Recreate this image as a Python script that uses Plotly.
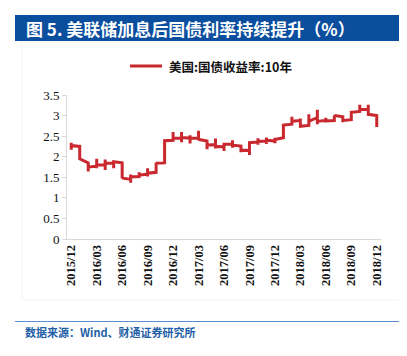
import plotly.graph_objects as go

# Month categories (Excel date axis, base unit = month)
months = ["2015/12",
          "2016/01", "2016/02", "2016/03", "2016/04", "2016/05", "2016/06",
          "2016/07", "2016/08", "2016/09", "2016/10", "2016/11", "2016/12",
          "2017/01", "2017/02", "2017/03", "2017/04", "2017/05", "2017/06",
          "2017/07", "2017/08", "2017/09", "2017/10", "2017/11", "2017/12",
          "2018/01", "2018/02", "2018/03", "2018/04", "2018/05", "2018/06",
          "2018/07", "2018/08", "2018/09", "2018/10", "2018/11", "2018/12"]

# Weekly observations of US 10Y Treasury yield (%) within each month
weekly_yields = [
    [2.17, 2.34, 2.27],
    [2.25, 2.10, 1.98, 1.95],
    [1.85, 1.64, 1.75],
    [1.77, 1.95, 1.72, 1.80],
    [1.80, 1.93, 1.68, 1.84],
    [1.84, 1.72, 1.88],
    [1.85, 1.62, 1.47, 1.48],
    [1.45, 1.37, 1.57, 1.51],
    [1.52, 1.62, 1.55],
    [1.58, 1.72, 1.52, 1.60],
    [1.62, 1.76, 1.86, 1.84],
    [1.85, 2.15, 2.37, 2.39],
    [2.40, 2.60, 2.47, 2.45],
    [2.45, 2.35, 2.60, 2.47],
    [2.45, 2.32, 2.52, 2.45],
    [2.45, 2.63, 2.40, 2.42],
    [2.38, 2.18, 2.28],
    [2.30, 2.44, 2.20, 2.25],
    [2.24, 2.14, 2.28, 2.30],
    [2.30, 2.40, 2.22, 2.28],
    [2.26, 2.11, 2.16],
    [2.15, 2.04, 2.30, 2.34],
    [2.36, 2.45, 2.29, 2.37],
    [2.38, 2.47, 2.31, 2.40],
    [2.38, 2.46, 2.33, 2.42],
    [2.46, 2.60, 2.72, 2.77],
    [2.79, 2.97, 2.84, 2.86],
    [2.88, 2.93, 2.76, 2.74],
    [2.76, 3.03, 2.84, 2.86],
    [2.95, 3.14, 2.79, 2.86],
    [2.88, 2.95, 2.83, 2.87],
    [2.88, 3.01, 2.96, 3.00],
    [2.97, 2.84, 2.88],
    [2.90, 2.98, 3.06, 3.08],
    [3.10, 3.26, 3.13, 3.15],
    [3.15, 3.26, 3.05, 3.03],
    [3.00, 2.85, 2.72],
]

quarter_ticks = ["2015/12", "2016/03", "2016/06", "2016/09", "2016/12",
                 "2017/03", "2017/06", "2017/09", "2017/12", "2018/03",
                 "2018/06", "2018/09", "2018/12"]
y_ticks = [0, 0.5, 1, 1.5, 2, 2.5, 3, 3.5]
y_tick_text = ["0", "0.5", "1", "1.5", "2", "2.5", "3", "3.5"]

series_name = "美国:国债收益率:10年"
title_text = "图 5. 美联储加息后国债利率持续提升（%）"
source_text = "数据来源：Wind、财通证券研究所"

xs, ys = [], []
for m, vals in zip(months, weekly_yields):
    for v in vals:
        xs.append(m)
        ys.append(v)

RED = "#C8282E"
BLUE = "#0B4E9E"
SERIF = "Liberation Serif, Times New Roman, serif"
CJK = "Noto Sans CJK SC, sans-serif"

# page has an 8px body margin; figure sized to fit the window exactly
OFF = 8
W, H = 407 - 2 * OFF, 356 - 2 * OFF
L, R, T, B = 67 - OFF, 381 - OFF, 95 - OFF, 239 - OFF
PW, PH = R - L, B - T


def px(x):
    return (x - OFF - L) / PW


def py(y):
    return (B - (y - OFF)) / PH


fig = go.Figure()
fig.add_trace(go.Scatter(
    x=xs, y=ys, mode="lines", name=series_name,
    line=dict(color=RED, width=3), showlegend=False,
))

fig.update_layout(
    width=W, height=H,
    margin=dict(l=L, r=W - R, t=T, b=H - B, autoexpand=False),
    paper_bgcolor="white", plot_bgcolor="white",
    xaxis=dict(
        type="category", categoryorder="array", categoryarray=months,
        range=[-0.5, 36.5], automargin=False,
        tickmode="array", tickvals=quarter_ticks,
        ticktext=["<b>" + t + "</b>" for t in quarter_ticks],
        tickangle=-90,
        tickfont=dict(family=SERIF, size=12.5, color="#111"),
        showgrid=False, showline=True, linecolor="#D9D9D9", linewidth=1,
        ticks="", zeroline=False,
    ),
    yaxis=dict(
        range=[0, 3.5], tickmode="array", tickvals=y_ticks, ticktext=y_tick_text,
        automargin=False,
        tickfont=dict(family=SERIF, size=13, color="#111"),
        showgrid=False, showline=True, linecolor="#D9D9D9", linewidth=1,
        ticks="outside", ticklen=4, tickcolor="#D9D9D9", zeroline=False,
    ),
)

shapes = [
    dict(type="rect", xref="paper", yref="paper",
         x0=px(15), x1=px(400), y0=py(41), y1=py(15),
         fillcolor=BLUE, line=dict(width=0), layer="below"),
    dict(type="rect", xref="paper", yref="paper",
         x0=px(22), x1=px(400), y0=py(300), y1=py(42),
         fillcolor="rgba(0,0,0,0)", line=dict(width=1, color="#F2F2F2"), layer="below"),
    dict(type="line", xref="paper", yref="paper",
         x0=px(15), x1=px(400), y0=py(321.5), y1=py(321.5),
         line=dict(color="#5B8FD0", width=1.2)),
    dict(type="line", xref="paper", yref="paper",
         x0=px(130), x1=px(162), y0=py(66), y1=py(66),
         line=dict(color=RED, width=3)),
]

annotations = [
    dict(text="<b>" + title_text + "</b>", xref="paper", yref="paper",
         x=px(24), y=py(28), xanchor="left", yanchor="middle",
         showarrow=False, font=dict(family=CJK, size=17, color="white")),
    dict(text="<b>" + series_name + "</b>", xref="paper", yref="paper",
         x=px(167), y=py(66), xanchor="left", yanchor="middle",
         showarrow=False, font=dict(family=CJK, size=12.5, color="#111")),
    dict(text="<b>" + source_text + "</b>", xref="paper", yref="paper",
         x=px(23), y=py(332), xanchor="left", yanchor="middle",
         showarrow=False, font=dict(family=CJK, size=11, color="#1F5FA8")),
]

fig.update_layout(shapes=shapes, annotations=annotations)
fig.write_html("out.html")
